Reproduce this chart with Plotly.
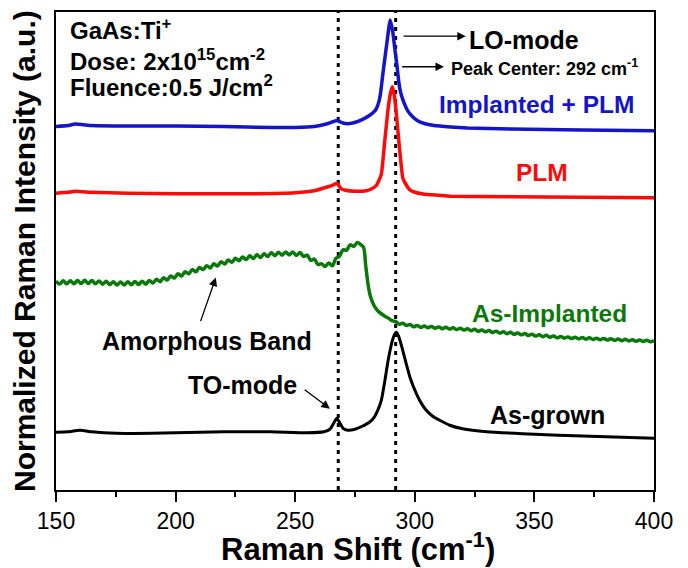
import plotly.graph_objects as go

# ---------------- data ----------------
x_tick_vals = [150, 200, 250, 300, 350, 400]
x_tick_text = ["150", "200", "250", "300", "350", "400"]
to_mode_pos = 268
lo_mode_pos = 292

blue_x = [150, 155, 158, 165, 180, 200, 220, 240, 250, 258, 263, 266, 267.5, 269, 271, 274, 278, 281,
          283, 284, 285, 285.6, 286.5, 287.3, 288.5, 289.7, 290.8, 291.8, 292.5, 293.3, 294, 295, 297,
          299, 301, 304, 308, 315, 322, 340, 370, 400]
blue_y = [3.65, 3.66, 3.675, 3.66, 3.655, 3.655, 3.65, 3.64, 3.64, 3.65, 3.675, 3.70, 3.71, 3.695, 3.68,
          3.685, 3.72, 3.76, 3.80, 3.833, 3.90, 3.97, 4.15, 4.30, 4.52, 4.72, 4.60, 4.40, 4.27, 4.10, 4.00,
          3.92, 3.81, 3.75, 3.71, 3.68, 3.66, 3.645, 3.635, 3.625, 3.615, 3.607]

red_x = [150, 155, 158, 165, 180, 200, 230, 250, 258, 263, 266, 267.5, 269, 271, 275, 279.7, 282, 284,
         286, 287.3, 288.7, 289.8, 290.6, 291.4, 292.2, 293.6, 295, 296.5, 297.8, 300, 303.4, 310, 315,
         340, 370, 400]
red_y = [2.98, 2.99, 3.00, 2.99, 2.98, 2.975, 2.975, 2.985, 3.005, 3.04, 3.065, 3.08, 3.03, 3.01, 3.00,
         3.005, 3.025, 3.06, 3.17, 3.47, 3.80, 3.98, 4.05, 3.97, 3.80, 3.433, 3.133, 3.06, 3.017, 2.99,
         2.973, 2.96, 2.95, 2.945, 2.94, 2.935]

green_x = [150, 151.5, 153, 154.5, 156, 157.5, 159, 160.5, 162, 163.5, 165, 166.5, 168, 169.5, 171, 172.5,
           174, 175.5, 177, 178.5, 180, 181.5, 183, 184.5, 186, 187.5, 189, 190.5, 192, 193.5, 195, 196.5,
           198, 199.5, 201, 202.5, 204, 205.5, 207, 208.5, 210, 211.5, 213, 214.5, 216, 217.5, 219, 220.5,
           222, 223.5, 225, 226.5, 228, 229.5, 231, 232.5, 234, 235.5, 237, 238.5, 240, 241.5, 243, 244.5,
           246, 247.5, 249, 250.5, 252, 253.5, 255, 256.5, 258, 259.5, 261, 262.5, 264, 265.5, 267, 268.5,
           270, 271.5, 273, 274.5, 276, 277.5,
           278.5, 279.5, 280.5, 281.5, 283, 284.5, 286, 287.5, 289, 290.5, 292,
           293.5, 295, 296.5, 298, 299.5, 301, 302.5, 304, 305.5, 307, 308.5, 310, 311.5, 313, 314.5, 316,
           317.5, 319, 320.5, 322, 323.5, 325, 326.5, 328, 329.5, 331, 332.5, 334, 335.5, 337, 338.5, 340,
           341.5, 343, 344.5, 346, 347.5, 349, 350.5, 352, 353.5, 355, 356.5, 358, 359.5, 361, 362.5, 364,
           365.5, 367, 368.5, 370, 371.5, 373, 374.5, 376, 377.5, 379, 380.5, 382, 383.5, 385, 386.5, 388,
           389.5, 391, 392.5, 394, 395.5, 397, 398.5, 400]
green_y = [2.099, 2.068, 2.101, 2.070, 2.102, 2.071, 2.104, 2.073, 2.106, 2.073, 2.104, 2.070, 2.100, 2.066,
           2.096, 2.062, 2.092, 2.058, 2.089, 2.058, 2.092, 2.061, 2.094, 2.063, 2.097, 2.067, 2.104, 2.079,
           2.117, 2.092, 2.131, 2.108, 2.150, 2.129, 2.171, 2.150, 2.192, 2.171, 2.213, 2.192, 2.235, 2.213,
           2.253, 2.230, 2.272, 2.249, 2.293, 2.269, 2.310, 2.286, 2.327, 2.303, 2.340, 2.314, 2.352, 2.325,
           2.362, 2.335, 2.372, 2.345, 2.383, 2.353, 2.387, 2.357, 2.391, 2.361, 2.390, 2.355, 2.385, 2.345,
           2.358, 2.307, 2.319, 2.265, 2.273, 2.244, 2.279, 2.251, 2.326, 2.347, 2.411, 2.409, 2.462, 2.446,
           2.486, 2.461,
           2.44, 2.25, 2.06, 1.94, 1.85, 1.80, 1.77, 1.745, 1.725, 1.70, 1.69,
           1.665, 1.675, 1.652, 1.662, 1.639, 1.652, 1.633, 1.647, 1.629, 1.643, 1.624, 1.638, 1.620, 1.634,
           1.616, 1.629, 1.611, 1.625, 1.606, 1.619, 1.600, 1.613, 1.594, 1.607, 1.588, 1.601, 1.582, 1.595,
           1.576, 1.589, 1.570, 1.583, 1.564, 1.577, 1.558, 1.571, 1.552, 1.565, 1.546, 1.559, 1.540, 1.553,
           1.534, 1.547, 1.528, 1.541, 1.525, 1.537, 1.521, 1.534, 1.518, 1.531, 1.515, 1.528, 1.512, 1.525,
           1.509, 1.522, 1.506, 1.519, 1.503, 1.516, 1.500, 1.513, 1.497, 1.510, 1.494, 1.506, 1.491, 1.503,
           1.488, 1.500, 1.486, 1.497, 1.493]

black_x = [150, 155, 160, 165, 175, 190, 200, 220, 240, 255, 262, 264.5, 266.3, 267.4, 268.5, 270, 272,
           275, 278, 281, 283, 284.5, 286, 287.3, 288.5, 289.4, 290.5, 291.5, 292.3, 293.3, 295, 296.5, 298,
           300.6, 302.5, 304.8, 307.5, 310.4, 314.6, 320, 330, 345, 360, 380, 400]
black_y = [0.58, 0.585, 0.60, 0.585, 0.57, 0.57, 0.575, 0.585, 0.585, 0.575, 0.585, 0.61, 0.68, 0.72, 0.68,
           0.62, 0.60, 0.61, 0.64, 0.68, 0.73, 0.80, 0.90, 1.07, 1.25, 1.37, 1.49, 1.56, 1.583, 1.54, 1.40,
           1.26, 1.13, 0.97, 0.88, 0.80, 0.74, 0.70, 0.65, 0.615, 0.585, 0.565, 0.55, 0.535, 0.52]

BLUE = "#1414C8"
RED = "#FF0A0A"
GREEN = "#0A780A"
BLACK = "#000000"
FONT = "Liberation Sans, Arial, sans-serif"

fig = go.Figure()
for xs, ys, col, w, sm in [(black_x, black_y, BLACK, 3, 0.5), (green_x, green_y, GREEN, 3.5, 1.0),
                           (red_x, red_y, RED, 3.5, 0.4), (blue_x, blue_y, BLUE, 3.5, 0.4)]:
    fig.add_trace(go.Scatter(x=xs, y=ys, mode="lines",
                             line=dict(color=col, width=w, shape="spline", smoothing=sm),
                             showlegend=False, hoverinfo="skip"))

for xv in (to_mode_pos, lo_mode_pos):
    fig.add_shape(type="line", xref="x", yref="paper", x0=xv, x1=xv, y0=0, y1=1,
                  line=dict(color="black", width=3, dash="4px,5px"), layer="below")

def label(text, x, y, size, color="black", bold=True):
    t = f"<b>{text}</b>" if bold else text
    fig.add_annotation(x=x, y=y, xref="x", yref="y", text=t, showarrow=False,
                       xanchor="left", yanchor="middle",
                       font=dict(family=FONT, size=size, color=color))

label("GaAs:Ti<sup>+</sup>", 155.0, 4.63, 24)
label("Dose: 2x10<sup>15</sup>cm<sup>-2</sup>", 155.0, 4.32, 24)
label("Fluence:0.5 J/cm<sup>2</sup>", 155.0, 4.06, 24)
label("LO-mode", 322.0, 4.52, 25)
label("Peak Center: 292 cm<sup>-1</sup>", 314.5, 4.24, 18)
label("Implanted + PLM", 309.3, 3.87, 24.5, BLUE)
label("PLM", 341.3, 3.185, 24.5, RED)
label("As-Implanted", 323.0, 1.77, 24.5, GREEN)
label("As-grown", 330.6, 0.75, 25)
label("Amorphous Band", 168.2, 1.50, 25)
label("TO-mode", 204.3, 1.05, 25)

def arrow(hx, hy, ax, ay):
    fig.add_annotation(x=hx, y=hy, xref="x", yref="y", text="", showarrow=True,
                       ax=ax, ay=ay, arrowhead=2, arrowsize=1.3, arrowwidth=1.3,
                       arrowcolor="black", standoff=0)

arrow(321.3, 4.557, -63.7, 0)
arrow(312.2, 4.25, -43.3, 0)
arrow(216.8, 2.133, -15.7, 45)
arrow(264.5, 0.817, -26.7, -20)

# axis titles as annotations
fig.add_annotation(xref="paper", yref="paper", x=(24 - 56) / 598, y=0.50,
                   text="<b>Normalized Raman Intensity (a.u.)</b>", textangle=-90,
                   showarrow=False, xanchor="center", yanchor="middle",
                   font=dict(family=FONT, size=30, color="black"))
fig.add_annotation(xref="paper", yref="paper", x=0.505, y=-(547 - 490) / 480,
                   text="<b>Raman Shift (cm<sup>-1</sup>)</b>",
                   showarrow=False, xanchor="center", yanchor="middle",
                   font=dict(family=FONT, size=31, color="black"))

fig.update_xaxes(range=[150, 400], tickvals=x_tick_vals, ticktext=x_tick_text,
                 showline=True, mirror=True, linecolor="black", linewidth=1.5,
                 ticks="outside", ticklen=10, tickwidth=1.5, tickcolor="black",
                 minor=dict(dtick=25, tick0=150, ticks="outside", ticklen=5, tickwidth=1.5, tickcolor="black"),
                 showgrid=False, zeroline=False,
                 tickfont=dict(family=FONT, size=23, color="black"))
fig.update_yaxes(range=[0, 4.8], showline=True, mirror=True, linecolor="black", linewidth=1.5,
                 showticklabels=False, ticks="", showgrid=False, zeroline=False)

fig.update_layout(width=688, height=568, margin=dict(l=56, r=34, t=10, b=78),
                  plot_bgcolor="white", paper_bgcolor="white")

fig.write_html("out.html")
